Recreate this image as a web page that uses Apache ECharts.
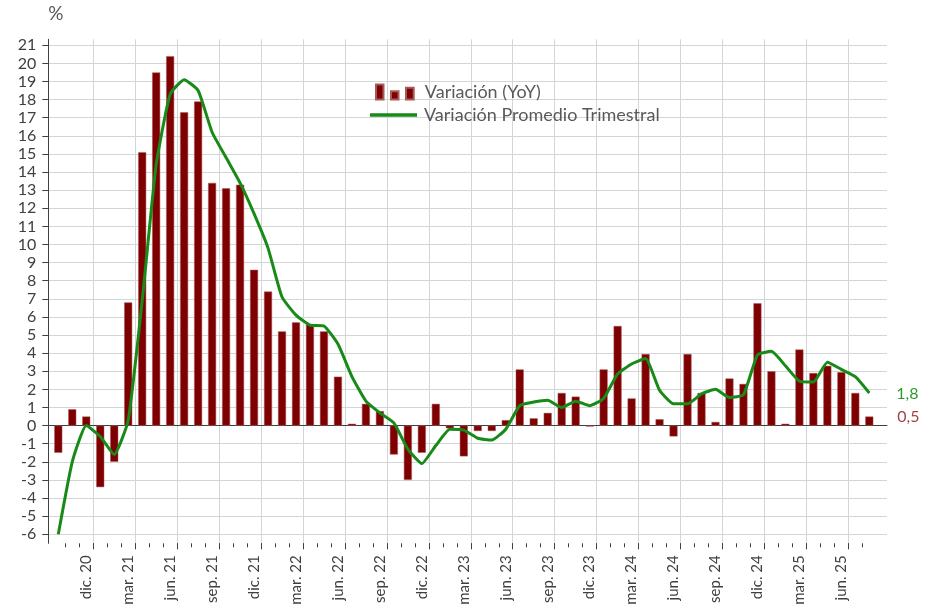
<!DOCTYPE html>
<html>
<head>
<meta charset="UTF-8">
<title>Variación YoY</title>
<script src="https://cdn.jsdelivr.net/npm/echarts@6/dist/echarts.min.js"></script>
<style>
  html, body { margin: 0; padding: 0; background: #fff; }
  #chart1 { width: 930px; height: 609px; }
</style>
</head>
<body>
<div id="chart1"></div>
<script type="text/javascript">
// meses (oct. 20 - ago. 25)
var months = [
  'oct. 20', 'nov. 20', 'dic. 20',
  'ene. 21', 'feb. 21', 'mar. 21', 'abr. 21', 'may. 21', 'jun. 21', 'jul. 21', 'ago. 21', 'sep. 21', 'oct. 21', 'nov. 21', 'dic. 21',
  'ene. 22', 'feb. 22', 'mar. 22', 'abr. 22', 'may. 22', 'jun. 22', 'jul. 22', 'ago. 22', 'sep. 22', 'oct. 22', 'nov. 22', 'dic. 22',
  'ene. 23', 'feb. 23', 'mar. 23', 'abr. 23', 'may. 23', 'jun. 23', 'jul. 23', 'ago. 23', 'sep. 23', 'oct. 23', 'nov. 23', 'dic. 23',
  'ene. 24', 'feb. 24', 'mar. 24', 'abr. 24', 'may. 24', 'jun. 24', 'jul. 24', 'ago. 24', 'sep. 24', 'oct. 24', 'nov. 24', 'dic. 24',
  'ene. 25', 'feb. 25', 'mar. 25', 'abr. 25', 'may. 25', 'jun. 25', 'jul. 25', 'ago. 25'
];

// Variación (YoY)
var yoy = [
  -1.5, 0.9, 0.5,
  -3.4, -2.0, 6.8, 15.1, 19.5, 20.4, 17.3, 17.9, 13.4, 13.1, 13.3, 8.6,
  7.4, 5.2, 5.7, 5.6, 5.2, 2.7, 0.1, 1.2, 0.8, -1.6, -3.0, -1.5,
  1.2, -0.15, -1.7, -0.3, -0.3, 0.3, 3.1, 0.4, 0.7, 1.8, 1.6, -0.05,
  3.1, 5.5, 1.5, 3.95, 0.35, -0.6, 3.95, 1.8, 0.2, 2.6, 2.3, 6.75,
  3.0, 0.1, 4.2, 2.9, 3.3, 2.95, 1.8, 0.5
];

// Variación Promedio Trimestral
var trimestral = [
  -6.0, -2.0, 0.0,
  -0.6, -1.6, 0.3, 6.9, 14.4, 18.3, 19.1, 18.5, 16.2, 14.8, 13.4, 11.7,
  9.8, 7.1, 6.1, 5.55, 5.5, 4.5, 2.7, 1.35, 0.7, 0.15, -1.3, -2.1,
  -1.1, -0.2, -0.25, -0.7, -0.8, -0.2, 1.1, 1.3, 1.4, 1.0, 1.35, 1.1,
  1.5, 2.85, 3.4, 3.7, 1.95, 1.2, 1.2, 1.75, 2.0, 1.55, 1.7, 3.9,
  4.1, 3.3, 2.45, 2.4, 3.5, 3.1, 2.7, 1.8
];

// bordes entre meses (para marcas y rejilla vertical)
var edges = months.concat(['']);

var FONT = 'Lato';
var AXIS_COLOR = '#404040';
var GRID_COLOR = '#d2d6d6';
var BAR_COLOR = '#7f0000';
var LINE_COLOR = '#178a17';

function fmt(v) {
  return v.toFixed(1).replace('.', ',');
}

var barData = yoy.map(function (v, i) {
  if (i === yoy.length - 1) {
    return {
      value: v,
      label: {
        show: true,
        position: 'right',
        distance: 24,
        offset: [0, -4],
        formatter: function (p) { return fmt(p.value); },
        color: '#a04545',
        fontFamily: FONT,
        fontSize: 16
      }
    };
  }
  return v;
});

var chart1 = echarts.init(document.getElementById('chart1'), null, { renderer: 'canvas' });
var option = {
  backgroundColor: '#ffffff',
  animation: false,
  textStyle: { fontFamily: FONT },
  legend: [{
    left: 370, top: 78,
    itemWidth: 38, itemHeight: 15,
    data: [{ name: 'Variación (YoY)', icon: 'path://M0,0H7.5V15H0Z M15,6.7H22.5V15H15Z M30,3.3H37.7V15H30Z' }],
    textStyle: { fontFamily: FONT, fontSize: 18, color: '#595959', padding: [0, 0, 0, 6] }
  }, {
    left: 365, top: 101,
    itemWidth: 47, itemHeight: 3.4,
    data: [{ name: 'Variación Promedio Trimestral', icon: 'path://M0,0H47V3.4H0Z' }],
    textStyle: { fontFamily: FONT, fontSize: 18, color: '#595959', padding: [0, 0, 0, 2] }
  }],
  grid: [
    // area de datos
    { left: 51.3, right: 53.7, top: 39.3, bottom: 65.7, containLabel: false },
    // rejilla horizontal y etiquetas del eje Y
    { left: 48.3, right: 43, top: 45.3, bottom: 74.7, containLabel: false }
  ],
  xAxis: [{
    type: 'category', gridIndex: 0, data: months, boundaryGap: true,
    axisLine: { show: false }, axisTick: { show: false }, splitLine: { show: false },
    axisLabel: {
      interval: function (idx) { return idx % 3 === 2; },
      rotate: 90, margin: 12,
      fontFamily: FONT, fontSize: 15, color: AXIS_COLOR
    }
  }, {
    type: 'category', gridIndex: 0, data: edges, boundaryGap: false, position: 'bottom',
    axisLine: { show: false }, axisLabel: { show: false },
    axisTick: {
      show: true, length: 6,
      interval: function (idx) { return idx > 0 && idx < edges.length - 1 && idx % 3 === 0; },
      lineStyle: { color: AXIS_COLOR, width: 1 }
    },
    splitLine: {
      show: true,
      interval: function (idx) { return idx > 0 && idx < edges.length - 1 && idx % 3 === 0; },
      lineStyle: { color: GRID_COLOR, width: 1 }
    }
  }, {
    type: 'category', gridIndex: 0, data: edges, boundaryGap: false, position: 'bottom',
    axisLine: { show: false }, axisLabel: { show: false }, splitLine: { show: false },
    axisTick: {
      show: true, length: 4,
      interval: function (idx) { return idx > 0 && idx < edges.length - 1; },
      lineStyle: { color: AXIS_COLOR, width: 1 }
    }
  }, {
    type: 'value', gridIndex: 1, min: 0, max: 1, offset: 9, position: 'bottom',
    axisLine: { show: true, lineStyle: { color: AXIS_COLOR, width: 1 } },
    axisTick: { show: false }, axisLabel: { show: false }, splitLine: { show: false }
  }],
  yAxis: [{
    type: 'value', gridIndex: 0, min: -6.5, max: 21.33, offset: 3, position: 'left',
    axisLine: { show: true, lineStyle: { color: AXIS_COLOR, width: 1 } },
    axisTick: { show: false }, axisLabel: { show: false }, splitLine: { show: false }
  }, {
    type: 'value', gridIndex: 1, min: -6, max: 21, interval: 1, position: 'left',
    name: '%', nameLocation: 'end', nameGap: 22,
    nameTextStyle: { fontFamily: FONT, fontSize: 19, color: '#595959', align: 'left' },
    axisLine: { show: false },
    axisTick: { show: true, length: 6, lineStyle: { color: AXIS_COLOR, width: 1 } },
    axisLabel: { margin: 12, fontFamily: FONT, fontSize: 16, color: AXIS_COLOR },
    splitLine: { show: true, lineStyle: { color: GRID_COLOR, width: 1 } }
  }],
  series: [{
    name: 'Variación (YoY)',
    type: 'bar',
    xAxisIndex: 0, yAxisIndex: 0,
    barWidth: 8,
    itemStyle: { color: BAR_COLOR, borderColor: '#a65a5a', borderWidth: 0.5 },
    data: barData,
    z: 2
  }, {
    name: 'Variación Promedio Trimestral',
    type: 'line',
    xAxisIndex: 0, yAxisIndex: 0,
    symbol: 'none',
    smooth: 0.15,
    lineStyle: { color: LINE_COLOR, width: 3 },
    itemStyle: { color: LINE_COLOR },
    endLabel: {
      show: true,
      distance: 27,
      offset: [0, 1],
      formatter: function (p) { return fmt(p.value); },
      color: '#2f9a2f',
      fontFamily: FONT,
      fontSize: 16
    },
    data: trimestral,
    z: 3
  }]
};

chart1.setOption(option);
</script>
</body>
</html>
